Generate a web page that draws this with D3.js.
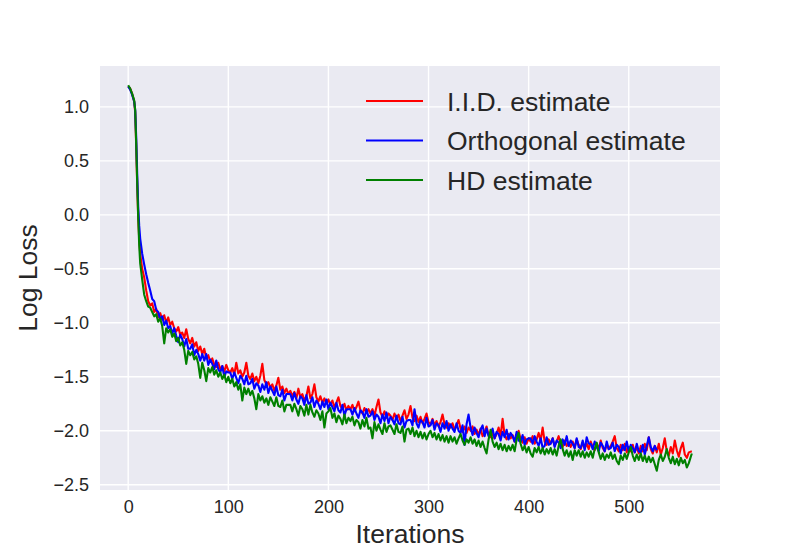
<!DOCTYPE html>
<html><head><meta charset="utf-8">
<script src="https://cdn.jsdelivr.net/npm/d3@7"></script>
<style>body{margin:0;background:#fff} text{font-family:"Liberation Sans",Arial,sans-serif;fill:#262626}</style>
</head><body>
<svg id="chart" width="800" height="550"></svg>
<script>
// Iteration indices: dense at the start, then every 2 iterations, final iteration 563
const earlyIters = [0,2,4,6,7,8,9,10,11,12,14,16,18,20];
const iterations = earlyIters.concat(d3.range(22, 561, 2), [563]);

const xTicks = [0,100,200,300,400,500];
const yTicks = [-2.5,-2.0,-1.5,-1.0,-0.5,0.0,0.5,1.0];

const seriesNames = ["I.I.D. estimate","Orthogonal estimate","HD estimate"];
const seriesColors = ["#ff0000","#0000ff","#008000"];

const iidLoss = [
 1.19,1.17,1.12,1.05,0.95,0.64,0.28,-0.02,-0.22,-0.36,-0.50,-0.58,-0.70,-0.80,
 -0.84,-0.82,-0.90,-0.87,-0.95,-0.91,-0.97,-0.93,-1.00,-0.95,
 -1.02,-0.99,-1.05,-1.08,-1.04,-1.11,-1.09,-1.14,-1.06,-1.15,
 -1.19,-1.14,-1.22,-1.18,-1.26,-1.22,-1.29,-1.24,-1.33,-1.30,
 -1.36,-1.33,-1.39,-1.41,-1.37,-1.43,-1.40,-1.45,-1.39,-1.44,
 -1.46,-1.42,-1.48,-1.37,-1.47,-1.44,-1.50,-1.46,-1.37,-1.49,
 -1.52,-1.47,-1.54,-1.50,-1.56,-1.49,-1.38,-1.53,-1.57,-1.55,
 -1.60,-1.57,-1.63,-1.58,-1.51,-1.62,-1.59,-1.65,-1.61,-1.66,
 -1.63,-1.68,-1.64,-1.70,-1.61,-1.69,-1.66,-1.72,-1.68,-1.59,
 -1.70,-1.66,-1.57,-1.69,-1.73,-1.68,-1.74,-1.70,-1.75,-1.71,
 -1.76,-1.72,-1.78,-1.74,-1.69,-1.77,-1.80,-1.75,-1.81,-1.77,
 -1.80,-1.76,-1.82,-1.78,-1.73,-1.81,-1.84,-1.79,-1.83,-1.80,
 -1.84,-1.80,-1.86,-1.78,-1.71,-1.83,-1.87,-1.82,-1.88,-1.84,
 -1.86,-1.90,-1.84,-1.89,-1.85,-1.91,-1.86,-1.81,-1.89,-1.85,
 -1.77,-1.88,-1.91,-1.86,-1.92,-1.87,-1.93,-1.89,-1.84,-1.92,
 -1.94,-1.89,-1.95,-1.91,-1.96,-1.92,-1.85,-1.94,-1.97,-1.93,
 -1.97,-1.93,-1.99,-1.95,-1.90,-1.98,-2.01,-1.96,-2.02,-1.97,
 -2.00,-1.96,-2.03,-1.99,-2.04,-1.98,-2.05,-2.01,-1.96,-2.04,
 -2.06,-2.02,-2.07,-2.03,-1.97,-2.05,-1.89,-2.04,-2.08,-2.03,
 -2.07,-2.04,-2.10,-2.05,-2.00,-2.08,-2.11,-2.06,-2.12,-2.07,
 -2.10,-2.05,-2.12,-2.08,-2.02,-2.09,-1.97,-2.10,-2.13,-2.08,
 -2.12,-2.07,-2.14,-2.10,-2.05,-2.12,-2.15,-2.09,-2.14,-2.11,
 -2.15,-2.10,-2.16,-2.08,-2.13,-2.17,-2.11,-2.16,-2.12,-2.17,
 -2.10,-2.15,-2.18,-2.12,-2.17,-2.09,-2.16,-2.19,-2.13,-2.17,
 -2.14,-2.10,-2.05,-2.16,-2.19,-2.13,-2.18,-2.12,-2.20,-2.15,
 -2.19,-2.13,-2.20,-2.15,-2.21,-2.14,-2.19,-2.12,-2.18,-2.06,
 -2.17,-2.21,-2.14,-2.20,-2.12,-2.22,-2.16,-2.07,-2.19,-2.23,
 -2.15,-2.21,-2.09,-2.18,-2.24,-2.16,-2.11,-2.22,-2.25,-2.20,
 -2.19
];
const orthogonalLoss = [
 1.19,1.16,1.11,1.05,0.97,0.72,0.38,0.08,-0.10,-0.22,-0.36,-0.46,-0.55,-0.63,
 -0.70,-0.78,-0.80,-0.88,-0.90,-0.97,-0.94,-1.02,-0.98,-1.05,
 -1.03,-1.10,-1.05,-1.12,-1.18,-1.11,-1.15,-1.22,-1.15,-1.24,
 -1.24,-1.20,-1.30,-1.25,-1.29,-1.35,-1.29,-1.35,-1.29,-1.39,
 -1.34,-1.38,-1.43,-1.35,-1.43,-1.46,-1.40,-1.50,-1.45,-1.46,
 -1.46,-1.52,-1.46,-1.51,-1.56,-1.49,-1.52,-1.57,-1.49,-1.57,
 -1.56,-1.52,-1.61,-1.56,-1.58,-1.64,-1.57,-1.62,-1.55,-1.65,
 -1.59,-1.63,-1.67,-1.59,-1.67,-1.68,-1.62,-1.72,-1.66,-1.66,
 -1.66,-1.72,-1.65,-1.71,-1.75,-1.68,-1.70,-1.76,-1.67,-1.75,
 -1.74,-1.69,-1.78,-1.72,-1.75,-1.80,-1.73,-1.78,-1.71,-1.80,
 -1.74,-1.78,-1.82,-1.74,-1.81,-1.83,-1.76,-1.86,-1.80,-1.80,
 -1.80,-1.85,-1.79,-1.84,-1.88,-1.81,-1.83,-1.88,-1.80,-1.87,
 -1.86,-1.82,-1.90,-1.85,-1.87,-1.93,-1.85,-1.91,-1.83,-1.93,
 -1.87,-1.90,-1.94,-1.86,-1.93,-1.94,-1.87,-1.97,-1.91,-1.90,
 -1.90,-1.95,-1.80,-1.93,-1.97,-1.90,-1.92,-1.97,-1.88,-1.96,
 -1.95,-1.90,-1.99,-1.93,-1.95,-2.01,-1.93,-1.98,-1.91,-2.00,
 -1.94,-1.98,-2.01,-1.93,-2.00,-2.02,-1.95,-2.13,-1.94,-1.85,
 -1.97,-2.04,-1.97,-2.02,-2.06,-1.99,-1.95,-2.05,-1.98,-2.05,
 -2.03,-1.98,-2.07,-2.01,-2.03,-2.09,-2.01,-2.06,-1.99,-2.08,
 -2.02,-2.05,-2.10,-2.01,-2.09,-2.10,-2.04,-2.13,-2.08,-2.07,
 -2.07,-2.12,-2.05,-2.10,-2.14,-2.07,-2.16,-2.14,-2.06,-2.13,
 -2.12,-2.07,-2.15,-2.09,-2.11,-2.16,-2.08,-2.13,-2.05,-2.14,
 -2.09,-2.12,-2.16,-2.07,-2.15,-2.16,-2.09,-2.18,-2.06,-2.12,
 -2.12,-2.17,-2.10,-2.15,-2.19,-2.11,-2.14,-2.19,-2.10,-2.17,
 -2.16,-2.11,-2.19,-2.13,-2.15,-2.21,-2.13,-2.18,-2.10,-2.19,
 -2.13,-2.16,-2.20,-2.12,-2.19,-2.20,-2.13,-2.22,-2.14,-2.06,
 -2.15,-2.19,-2.14,-2.18
];
const hdLoss = [
 1.20,1.17,1.12,1.06,0.97,0.66,0.30,-0.02,-0.28,-0.45,-0.60,-0.74,-0.80,-0.85,
 -0.86,-0.90,-0.94,-0.92,-0.99,-0.96,-1.03,-1.19,-1.05,-1.09,
 -1.06,-1.13,-1.10,-1.17,-1.14,-1.21,-1.18,-1.25,-1.38,-1.26,
 -1.30,-1.27,-1.34,-1.31,-1.38,-1.51,-1.37,-1.44,-1.54,-1.42,
 -1.46,-1.41,-1.48,-1.44,-1.50,-1.46,-1.52,-1.48,-1.55,-1.50,
 -1.56,-1.52,-1.59,-1.55,-1.62,-1.57,-1.72,-1.60,-1.66,-1.61,
 -1.67,-1.63,-1.70,-1.80,-1.66,-1.72,-1.68,-1.74,-1.70,-1.76,
 -1.69,-1.73,-1.77,-1.69,-1.77,-1.78,-1.72,-1.82,-1.76,-1.76,
 -1.76,-1.82,-1.75,-1.80,-1.86,-1.77,-1.80,-1.86,-1.76,-1.85,
 -1.76,-1.83,-1.87,-1.81,-1.84,-1.90,-1.82,-1.97,-1.84,-1.82,
 -1.79,-1.88,-1.84,-1.92,-1.86,-1.89,-1.94,-1.85,-1.93,-1.88,
 -1.91,-1.87,-1.95,-1.90,-1.92,-1.98,-1.90,-1.96,-1.88,-1.98,
 -1.97,-2.07,-1.92,-2.00,-1.94,-1.99,-2.03,-1.93,-2.01,-1.96,
 -1.95,-1.99,-2.03,-1.94,-2.01,-2.02,-1.96,-2.10,-1.99,-1.98,
 -2.03,-1.97,-2.05,-2.00,-2.06,-2.01,-2.07,-2.02,-2.08,-2.03,
 -2.00,-2.06,-2.02,-2.08,-2.03,-2.09,-2.04,-2.10,-2.05,-2.11,
 -2.05,-2.10,-2.06,-2.12,-2.07,-2.03,-2.09,-2.13,-2.08,-2.11,
 -2.06,-2.12,-2.08,-2.14,-2.09,-2.15,-2.10,-2.16,-2.21,-2.08,
 -1.99,-2.10,-2.15,-2.11,-2.17,-2.12,-2.18,-2.13,-2.19,-2.14,
 -2.18,-2.13,-2.19,-2.08,-2.02,-2.12,-2.18,-2.14,-2.20,-2.15,
 -2.21,-2.24,-2.16,-2.20,-2.15,-2.21,-2.16,-2.22,-2.17,-2.21,
 -2.16,-2.22,-2.17,-2.23,-2.14,-2.08,-2.17,-2.23,-2.18,-2.24,
 -2.19,-2.27,-2.18,-2.23,-2.18,-2.24,-2.19,-2.25,-2.20,-2.24,
 -2.19,-2.25,-2.17,-2.11,-2.20,-2.26,-2.21,-2.27,-2.22,-2.25,
 -2.20,-2.26,-2.22,-2.28,-2.31,-2.23,-2.27,-2.21,-2.26,-2.20,
 -2.15,-2.23,-2.28,-2.22,-2.27,-2.21,-2.28,-2.23,-2.29,-2.24,
 -2.29,-2.25,-2.31,-2.37,-2.27,-2.22,-2.28,-2.24,-2.17,-2.25,
 -2.30,-2.24,-2.31,-2.26,-2.32,-2.25,-2.30,-2.27,-2.34,-2.30,
 -2.21
];

const allSeries = [iidLoss, orthogonalLoss, hdLoss];

const L = 100, R = 720, T = 66, B = 490;
const svg = d3.select("#chart");

svg.append("rect").attr("x",L).attr("y",T).attr("width",R-L).attr("height",B-T).attr("fill","#eaeaf2");

const maxIter = d3.max(allSeries, s => iterations[s.length-1]);
const xPad = 0.05*maxIter;
const x = d3.scaleLinear().domain([-xPad, maxIter + xPad]).range([L,R]);
const yMin = d3.min(allSeries, s => d3.min(s)), yMax = d3.max(allSeries, s => d3.max(s));
const yPad = 0.05*(yMax - yMin);
const y = d3.scaleLinear().domain([yMin - yPad, yMax + yPad]).range([B,T]);

// grid
const grid = svg.append("g");
grid.selectAll("line.gx").data(xTicks).join("line")
  .attr("x1", d=>x(d)).attr("x2", d=>x(d)).attr("y1",T).attr("y2",B)
  .attr("stroke","#fff").attr("stroke-width",1.4);
grid.selectAll("line.gy").data(yTicks).join("line")
  .attr("y1", d=>y(d)).attr("y2", d=>y(d)).attr("x1",L).attr("x2",R)
  .attr("stroke","#fff").attr("stroke-width",1.4);

// axes
const xAxis = svg.append("g").attr("transform",`translate(0,${B})`)
  .call(d3.axisBottom(x).tickValues(xTicks).tickSize(0).tickPadding(10).tickFormat(d3.format("d")));
const yAxis = svg.append("g").attr("transform",`translate(${L},0)`)
  .call(d3.axisLeft(y).tickValues(yTicks).tickSize(0).tickPadding(11).tickFormat(d3.format(".1f")));
[xAxis,yAxis].forEach(a=>{
  a.select(".domain").remove();
  a.selectAll("text").attr("font-size",18).attr("fill","#262626")
   .style("font-family",'"Liberation Sans",Arial,sans-serif');
});

// lines
const line = d3.line().x((d,i)=>x(iterations[i])).y(d=>y(d));
allSeries.forEach((s,k)=>{
  svg.append("path").datum(s).attr("d",line).attr("fill","none")
    .attr("stroke",seriesColors[k]).attr("stroke-width",2.1).attr("stroke-linejoin","round");
});

// legend
const legY = [101,140.5,180];
seriesNames.forEach((n,k)=>{
  svg.append("line").attr("x1",366).attr("x2",423).attr("y1",legY[k]).attr("y2",legY[k])
    .attr("stroke",seriesColors[k]).attr("stroke-width",2);
  svg.append("text").attr("x",447).attr("y",legY[k]).attr("dy","0.36em")
    .attr("font-size",26.5).text(n);
});

// axis labels
svg.append("text").attr("x",(L+R)/2).attr("y",543).attr("text-anchor","middle")
  .attr("font-size",26.5).text("Iterations");
svg.append("text").attr("transform",`translate(37,${(T+B)/2}) rotate(-90)`).attr("text-anchor","middle")
  .attr("font-size",26.5).text("Log Loss");
</script>
</body></html>
